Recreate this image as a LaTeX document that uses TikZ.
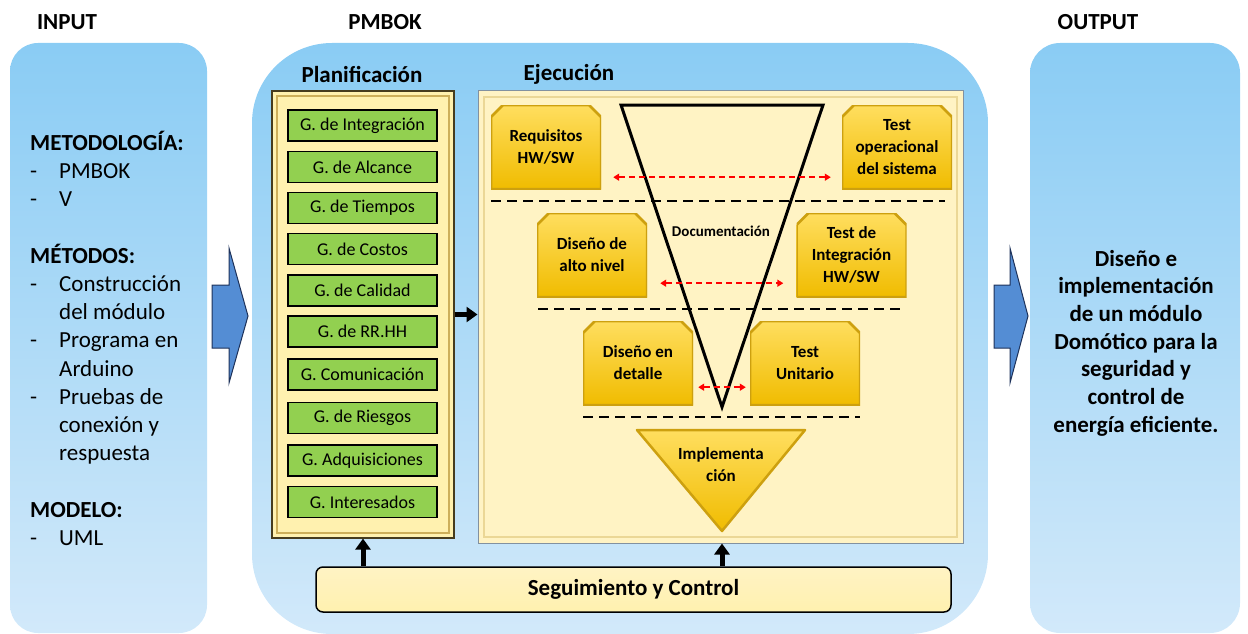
\documentclass[tikz,border=0pt]{standalone}
\usepackage{fontspec}
\setmainfont{Carlito}
\usetikzlibrary{arrows.meta,calc}
\definecolor{bluetop}{RGB}{138,204,244}
\definecolor{bluebot}{RGB}{210,233,250}
\definecolor{arrblue}{RGB}{84,141,212}
\definecolor{arredge}{RGB}{30,50,90}
\definecolor{ggreen}{RGB}{146,208,80}
\definecolor{paleyel}{RGB}{255,241,175}
\definecolor{paleyel2}{RGB}{255,243,196}
\definecolor{planedge}{RGB}{70,60,30}
\definecolor{planinner}{RGB}{205,175,90}
\definecolor{ejecedge}{RGB}{130,145,160}
\definecolor{ejecinner}{RGB}{235,215,150}
\definecolor{goldtop}{RGB}{255,222,95}
\definecolor{goldbot}{RGB}{240,188,0}
\definecolor{goldedge}{RGB}{205,160,15}
\definecolor{redarr}{RGB}{255,0,0}
\begin{document}
\begin{tikzpicture}[x=1pt,y=-1pt,
  bigbox/.style={top color=bluetop, bottom color=bluebot, draw=none, inner sep=0pt},
  title/.style={font=\fontsize{23}{27}\selectfont\bfseries, inner sep=0pt},
  gbox/.style={draw=black, line width=1.8pt, fill=ggreen, minimum width=149pt,
    minimum height=31pt, inner sep=0pt, font=\fontsize{18}{20}\selectfont},
  ybox/.style={minimum width=110pt, minimum height=84pt, inner sep=0pt, align=center,
    font=\fontsize{17}{22}\selectfont\bfseries,
    path picture={
      \path[top color=goldtop, bottom color=goldbot, draw=goldedge, line width=2.5pt]
        (path picture bounding box.south west)
        -- ([yshift=-12pt]path picture bounding box.north west)
        -- ([xshift=12pt]path picture bounding box.north west)
        -- ([xshift=-12pt]path picture bounding box.north east)
        -- ([yshift=-12pt]path picture bounding box.north east)
        -- (path picture bounding box.south east) -- cycle;}},
  sepline/.style={black, line width=2.5pt, dash pattern=on 10pt off 6pt},
  redarrow/.style={redarr, line width=2pt, dash pattern=on 6pt off 4pt,
    {Triangle[width=7pt,length=6pt]}-{Triangle[width=7pt,length=6pt]}},
  blkarrow/.style={line width=5pt, -{Triangle[width=15pt,length=11pt]}},
  blockarr/.style={fill=arrblue, draw=arredge, line width=1pt, line join=miter}
]
\useasboundingbox (0,0) rectangle (1248,634);

% big boxes
\node[bigbox, rounded corners=28pt, minimum width=197pt, minimum height=590pt] (inbox) at (108.5,338) {};
\node[bigbox, rounded corners=30pt, minimum width=210pt, minimum height=590pt] (outbox) at (1135,338) {};
\node[bigbox, rounded corners=80pt, minimum width=736pt, minimum height=591pt] (pmbox) at (620,338.5) {};

% titles
\node[title] (tin) at (67,22) {INPUT};
\node[title] (tpm) at (385,22) {PMBOK};
\node[title] (tout) at (1098,22) {OUTPUT};
\node[title] (tplan) at (362,74) {Planificación};
\node[title] (tejec) at (569,74) {Ejecución};

% block arrows
\path[blockarr] (212,285) -- (229,285) -- (229,248) -- (248,316) -- (229,383) -- (229,348) -- (212,348) -- cycle;
\path[blockarr] (994,285) -- (1010,285) -- (1010,248) -- (1028,316) -- (1010,383) -- (1010,348) -- (994,348) -- cycle;

% input text
\node[anchor=north west, inner sep=0pt, align=left, font=\fontsize{23}{28.2}\selectfont] (intext) at (30,131) {%
\textbf{METODOLOGÍA:}\\
\makebox[29pt][l]{-}PMBOK\\
\makebox[29pt][l]{-}V\\[28.2pt]
\textbf{MÉTODOS:}\\
\makebox[29pt][l]{-}Construcción\\
\hspace*{29pt}del módulo\\
\makebox[29pt][l]{-}Programa en\\
\hspace*{29pt}Arduino\\
\makebox[29pt][l]{-}Pruebas de\\
\hspace*{29pt}conexión y\\
\hspace*{29pt}respuesta\\[28.2pt]
\textbf{MODELO:}\\
\makebox[29pt][l]{-}UML};

% output text
\node[align=center, inner sep=0pt, font=\fontsize{23}{27.7}\selectfont\bfseries] (outtext) at (1136,343) {%
Diseño e\\implementación\\de un módulo\\Domótico para la\\seguridad y\\control de\\energía eficiente.};

% planificacion panel
\node[draw=planedge, line width=1.2pt, fill=paleyel, minimum width=182pt, minimum height=447pt, inner sep=0pt] (plan) at (363,314.5) {};
\draw[planinner, line width=2pt] (277,96) rectangle (449,533);

\node[gbox] (g1) at (362.5,125.5) {G. de Integración};
\node[gbox] (g2) at (362.5,167) {G. de Alcance};
\node[gbox] (g3) at (362.5,208) {G. de Tiempos};
\node[gbox] (g4) at (362.5,249) {G. de Costos};
\node[gbox] (g5) at (362.5,290.5) {G. de Calidad};
\node[gbox] (g6) at (362.5,331.5) {G. de RR.HH};
\node[gbox] (g7) at (362.5,374.5) {G. Comunicación};
\node[gbox] (g8) at (362.5,418) {G. de Riesgos};
\node[gbox] (g9) at (362.5,460.5) {G. Adquisiciones};
\node[gbox] (g10) at (362.5,502) {G. Interesados};

% ejecucion panel
\node[draw=ejecedge, line width=1pt, fill=paleyel2, minimum width=485pt, minimum height=452pt, inner sep=0pt] (ejec) at (720.5,317) {};
\draw[ejecinner, line width=1.2pt] (484,97) rectangle (957,537);

% V outline
\draw[line width=3pt, line join=miter] (621,105) -- (823,105) -- (722,407) -- cycle;
\node[font=\fontsize{15}{17}\selectfont\bfseries, inner sep=0pt] (doc) at (721,231) {Documentación};

% yellow boxes
\node[ybox] (req) at (546,147) {Requisitos\\HW/SW};
\node[ybox] (top) at (897,147) {Test\\operacional\\del sistema};
\node[ybox] (dal) at (592,255) {Diseño de\\alto nivel};
\node[ybox] (tin2) at (851.5,255) {Test de\\Integración\\HW/SW};
\node[ybox] (dde) at (638,363) {Diseño en\\detalle};
\node[ybox] (tun) at (805,363) {Test\\Unitario};

% separators
\draw[sepline] (491,201) -- (945,201);
\draw[sepline] (538,309) -- (906,309);
\draw[sepline] (583,417) -- (860,417);

% red arrows
\draw[redarrow] ($(req.south east)+(12,-12)$) -- ($(top.south west)+(-11,-12)$);
\draw[redarrow] ($(dal.south east)+(13,-14)$) -- ($(tin2.south west)+(-13,-14)$);
\draw[redarrow] ($(dde.south east)+(5,-18)$) -- ($(tun.south west)+(-4,-18)$);

% implementacion
\path[top color=goldtop, bottom color=goldbot, draw=goldedge, line width=2.5pt, line join=round] (637,430) -- (805,430) -- (722,531) -- cycle;
\node[align=center, inner sep=0pt, font=\fontsize{17}{22}\selectfont\bfseries] (impl) at (721,465) {Implementa\\ción};

% seguimiento
\node[draw=black, line width=1.5pt, rounded corners=7pt, top color=paleyel2, bottom color=paleyel,
  minimum width=635pt, minimum height=45pt, inner sep=0pt, font=\fontsize{23}{27}\selectfont\bfseries] (seg) at (633.5,589.5) {Seguimiento y Control};

% black arrows
\draw[blkarrow] (plan.east) -- (ejec.west |- plan.east);
\draw[blkarrow] (seg.north -| plan.south) -- (plan.south);
\draw[blkarrow] (seg.north -| 722,0) -- (ejec.south -| 722,0);
\end{tikzpicture}
\end{document}
